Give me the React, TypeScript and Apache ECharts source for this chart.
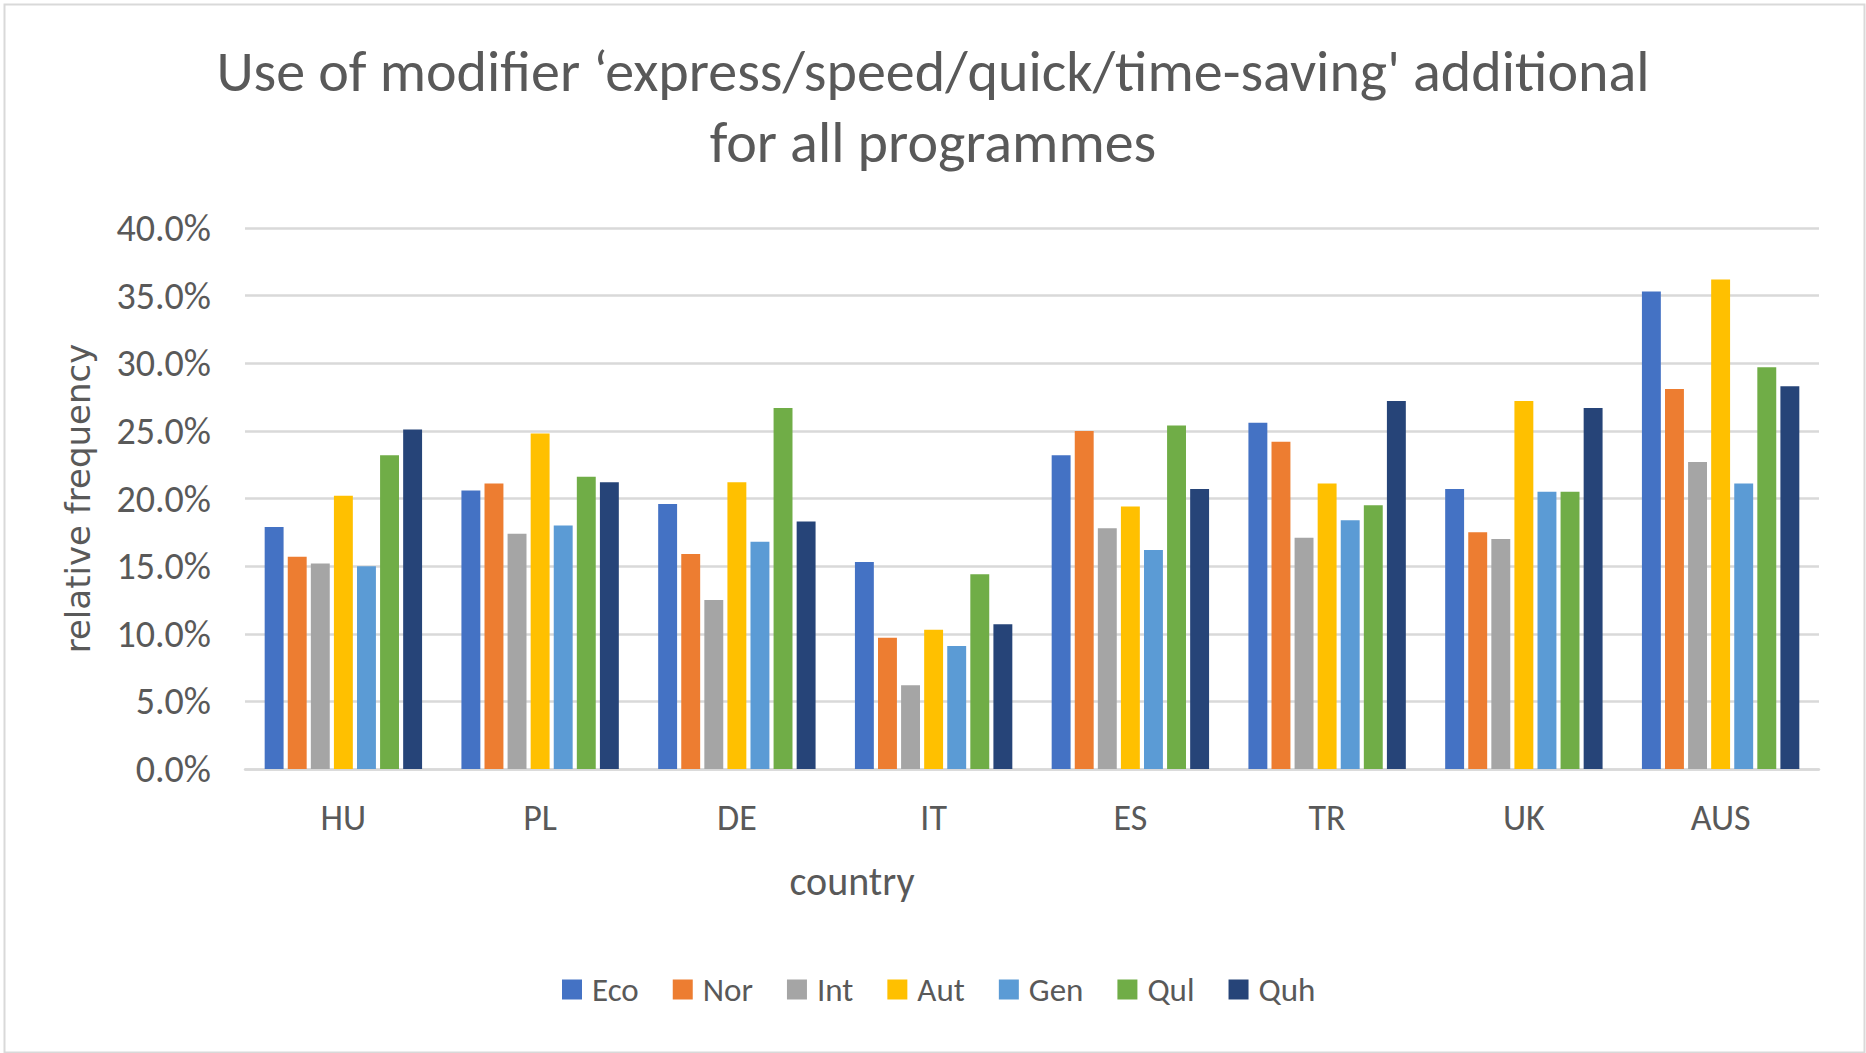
import { useEffect, useRef } from 'react';
import * as echarts from 'echarts';

const countries = ['HU', 'PL', 'DE', 'IT', 'ES', 'TR', 'UK', 'AUS'];
const seriesNames = ['Eco', 'Nor', 'Int', 'Aut', 'Gen', 'Qul', 'Quh'];
const seriesColors = ['#4472C4', '#ED7D31', '#A5A5A5', '#FFC000', '#5B9BD5', '#70AD47', '#264478'];

// relative frequency in %, one array per programme
const eco = [17.9, 20.6, 19.6, 15.3, 23.2, 25.6, 20.7, 35.3];
const nor = [15.7, 21.1, 15.9, 9.7, 25.0, 24.2, 17.5, 28.1];
const int = [15.2, 17.4, 12.5, 6.2, 17.8, 17.1, 17.0, 22.7];
const aut = [20.2, 24.8, 21.2, 10.3, 19.4, 21.1, 27.2, 36.2];
const gen = [15.0, 18.0, 16.8, 9.1, 16.2, 18.4, 20.5, 21.1];
const qul = [23.2, 21.6, 26.7, 14.4, 25.4, 19.5, 20.5, 29.7];
const quh = [25.1, 21.2, 18.3, 10.7, 20.7, 27.2, 26.7, 28.3];

const seriesData = [eco, nor, int, aut, gen, qul, quh];

const titleLines = [
  'Use of modifier \u2018express/speed/quick/time-saving\' additional',
  'for all programmes',
];

const FONT = 'Carlito, Calibri, Lato, sans-serif';
const TEXT = '#595959';
const GRID = '#d9d9d9';

export default function App() {
  const chartRef = useRef<HTMLDivElement>(null);

  useEffect(() => {
    if (!chartRef.current) return;
    document.body.style.margin = '0';

    const chart = echarts.init(chartRef.current, undefined, { renderer: 'svg' });

    const option: echarts.EChartsOption = {
      animation: false,
      backgroundColor: '#ffffff',
      legend: {
        data: seriesNames,
        left: 557,
        top: 968,
        icon: 'rect',
        itemWidth: 20,
        itemHeight: 20,
        itemGap: 34,
        textStyle: {
          fontFamily: FONT,
          fontSize: 33,
          color: TEXT,
          padding: [0, 0, 0, 5],
        },
      },
      grid: {
        left: 245,
        right: 47,
        top: 228,
        bottom: 284,
      },
      xAxis: {
        type: 'category',
        data: countries,
        axisLine: { lineStyle: { color: GRID, width: 2.5 } },
        axisTick: { show: false },
        axisLabel: {
          fontFamily: FONT,
          fontSize: 36,
          color: TEXT,
          margin: 31,
        },
      },
      yAxis: {
        type: 'value',
        min: 0,
        max: 40,
        interval: 5,
        name: 'relative frequency',
        nameLocation: 'middle',
        nameGap: 150,
        nameTextStyle: {
          fontFamily: 'DejaVu Sans, sans-serif',
          fontSize: 34,
          color: TEXT,
        },
        axisLine: { show: false },
        axisTick: { show: false },
        axisLabel: {
          fontFamily: FONT,
          fontSize: 38,
          color: TEXT,
          margin: 34,
          formatter: (v: number) => v.toFixed(1) + '%',
        },
        splitLine: { lineStyle: { color: GRID, width: 2.5 } },
      },
      graphic: [
        {
          type: 'rect',
          left: 2,
          top: 2,
          shape: { width: 1860, height: 1048 },
          style: { fill: 'none', stroke: GRID, lineWidth: 2 },
          silent: true,
        },
        ...titleLines.map((line, i) => ({
          type: 'text' as const,
          x: 933,
          y: 71 + i * 71,
          style: {
            text: line,
            fontFamily: FONT,
            fontSize: 58,
            fill: TEXT,
            textAlign: 'center' as const,
            textVerticalAlign: 'middle' as const,
          },
        })),
        {
          type: 'text',
          x: 852,
          y: 881,
          style: {
            text: 'country',
            fontFamily: FONT,
            fontSize: 40,
            fill: TEXT,
            textAlign: 'center',
            textVerticalAlign: 'middle',
          },
        },
      ],
      series: seriesNames.map((name, i) => ({
        name,
        type: 'bar',
        data: seriesData[i],
        barCategoryGap: '20%',
        barGap: '22%',
        itemStyle: { color: seriesColors[i] },
      })),
    };

    chart.setOption(option);

    return () => {
      chart.dispose();
    };
  }, []);

  return <div ref={chartRef} style={{ width: 1866, height: 1053 }} />;
}
